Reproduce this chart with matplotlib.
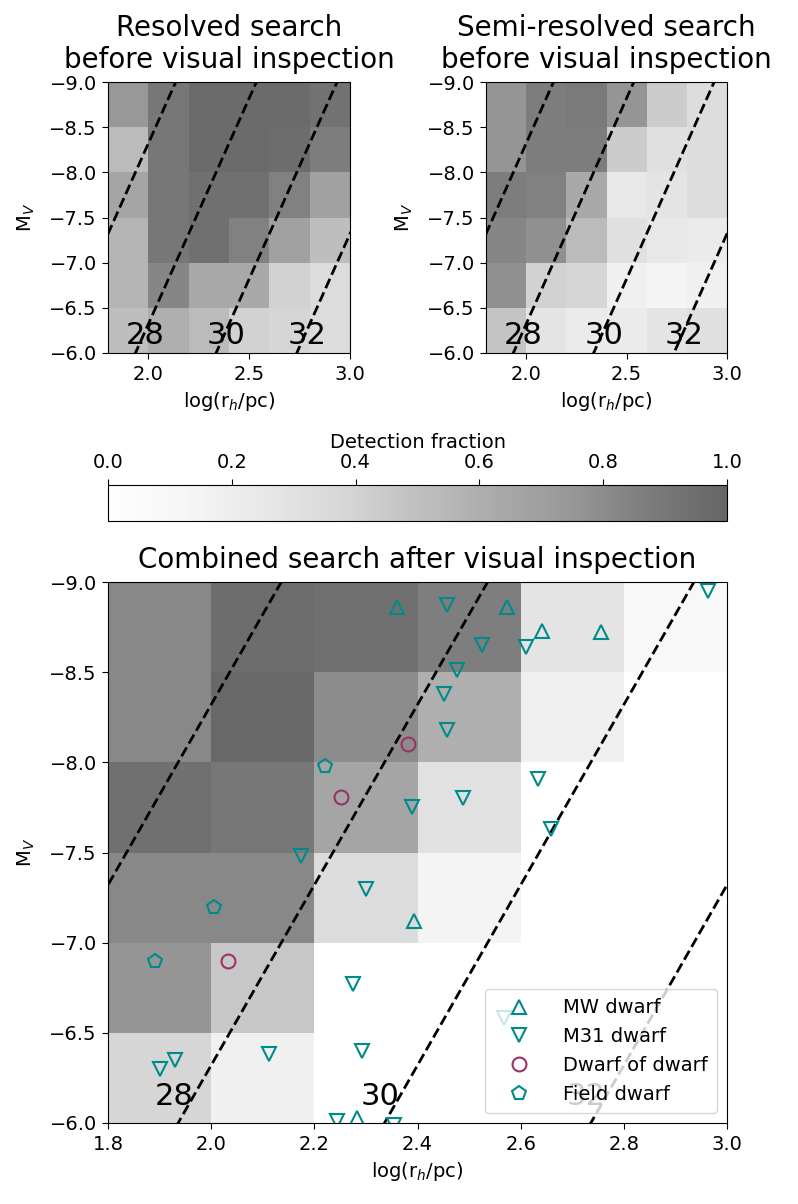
import numpy as np
import matplotlib
matplotlib.use("Agg")
import matplotlib.pyplot as plt

plt.rcParams['font.family'] = ['DejaVu Sans']
plt.rcParams['font.size'] = 14
plt.rcParams['xtick.major.size'] = 4.5
plt.rcParams['ytick.major.size'] = 4.5
plt.rcParams['xtick.major.pad'] = 4.5

# ---------------- data ----------------
logrh_edges = [1.8, 2.0, 2.2, 2.4, 2.6, 2.8, 3.0]
mv_edges = [-9.0, -8.5, -8.0, -7.5, -7.0, -6.5, -6.0]

# detection fraction, rows from M_V=-9 (top) to -6 (bottom)
frac_resolved = [
    [0.74, 0.90, 0.97, 0.97, 0.97, 0.93],
    [0.53, 0.90, 0.97, 0.97, 0.96, 0.87],
    [0.66, 0.90, 0.94, 0.94, 0.85, 0.69],
    [0.57, 0.90, 0.94, 0.85, 0.69, 0.51],
    [0.57, 0.83, 0.63, 0.63, 0.40, 0.34],
    [0.51, 0.60, 0.53, 0.40, 0.38, 0.34],
]
frac_semi = [
    [0.76, 0.87, 0.89, 0.76, 0.43, 0.33],
    [0.76, 0.87, 0.87, 0.43, 0.31, 0.33],
    [0.87, 0.85, 0.63, 0.25, 0.28, 0.34],
    [0.83, 0.78, 0.53, 0.31, 0.25, 0.22],
    [0.78, 0.40, 0.38, 0.18, 0.14, 0.18],
    [0.47, 0.28, 0.22, 0.22, 0.28, 0.31],
]
frac_combined = [
    [0.82, 0.96, 0.94, 0.86, 0.28, 0.09],
    [0.82, 0.98, 0.80, 0.60, 0.18, 0.00],
    [0.94, 0.90, 0.66, 0.30, 0.00, 0.00],
    [0.82, 0.82, 0.34, 0.14, 0.00, 0.00],
    [0.76, 0.46, 0.00, 0.00, 0.00, 0.00],
    [0.38, 0.18, 0.00, 0.00, 0.00, 0.00],
]

mw_logrh = [2.360, 2.573, 2.641, 2.756, 2.393, 2.283]
mw_mv = [-8.86, -8.86, -8.73, -8.72, -7.12, -6.03]

m31_logrh = [2.457, 2.964, 2.526, 2.610, 2.476, 2.451, 2.458, 2.634, 2.488,
             2.389, 2.658, 2.175, 2.301, 2.274, 2.113, 2.292, 1.930, 1.900,
             2.243, 2.355, 2.568]
m31_mv = [-8.87, -8.95, -8.65, -8.64, -8.51, -8.38, -8.18, -7.91, -7.80,
          -7.75, -7.63, -7.48, -7.30, -6.77, -6.38, -6.40, -6.35, -6.30,
          -6.01, -5.99, -6.58]

dod_logrh = [2.382, 2.252, 2.033]
dod_mv = [-8.10, -7.81, -6.90]

field_logrh = [2.221, 2.006, 1.891]
field_mv = [-7.98, -7.20, -6.90]

sb_levels = [26, 28, 30, 32]
sb_labels = ['28', '30', '32']
SB_OFFSET = 21.572 + 2.5 * np.log10(4 * np.pi)

# ---------------- figure ----------------
fig = plt.figure(figsize=(7.98, 12.04), dpi=100)
W, H = 798.0, 1204.0

def ax_rect(x0, y0, x1, y1):
    return [x0 / W, 1 - y1 / H, (x1 - x0) / W, (y1 - y0) / H]

ax_tl = fig.add_axes(ax_rect(108, 82, 350, 353))
ax_tr = fig.add_axes(ax_rect(486, 82, 727, 353))
cax = fig.add_axes(ax_rect(108, 485, 727, 521))
ax_b = fig.add_axes(ax_rect(108, 582, 727, 1123))

cmap = plt.get_cmap('Greys')
mv_line = np.array([-9.5, -5.5])


def draw_panel(ax, frac, title):
    mesh = ax.pcolormesh(logrh_edges, mv_edges, np.array(frac), cmap=cmap,
                         vmin=0, vmax=1, alpha=0.6, edgecolors='none',
                         antialiased=False, shading='flat')
    for mu in sb_levels:
        x = (mu - SB_OFFSET - mv_line) / 5.0
        ax.plot(x, mv_line, 'k--', lw=2)
    for lab in sb_labels:
        mu = float(lab)
        xt = (mu - SB_OFFSET + 5.77) / 5.0
        ax.text(xt, -6.1, lab, fontsize=22, ha='left', va='baseline')
    ax.set_xlim(1.8, 3.0)
    ax.set_ylim(-6.0, -9.0)
    ax.set_xlabel('log(r$_h$/pc)')
    ax.set_ylabel('M$_V$', labelpad=9)
    ax.set_title(title, fontsize=20, pad=10)
    return mesh


mesh = draw_panel(ax_tl, frac_resolved, 'Resolved search\nbefore visual inspection')
draw_panel(ax_tr, frac_semi, 'Semi-resolved search\nbefore visual inspection')
ax_tl.set_xticks([2.0, 2.5, 3.0])
ax_tr.set_xticks([2.0, 2.5, 3.0])
draw_panel(ax_b, frac_combined, 'Combined search after visual inspection')
ax_b.set_xticks(np.arange(1.8, 3.01, 0.2))

teal = '#008b8b'
purple = '#993366'
ms = 10
ax_b.plot(mw_logrh, mw_mv, ls='none', marker='^', ms=ms, mfc='none',
          mec=teal, mew=1.5, label='MW dwarf')
ax_b.plot(m31_logrh, m31_mv, ls='none', marker='v', ms=ms, mfc='none',
          mec=teal, mew=1.5, label='M31 dwarf')
ax_b.plot(dod_logrh, dod_mv, ls='none', marker='o', ms=ms, mfc='none',
          mec=purple, mew=1.5, label='Dwarf of dwarf')
ax_b.plot(field_logrh, field_mv, ls='none', marker='p', ms=ms, mfc='none',
          mec=teal, mew=1.5, label='Field dwarf')
ax_b.legend(loc='lower right', fontsize=14, borderpad=0.5, handlelength=2.5,
            handletextpad=1.0, labelspacing=0.5)

cb = fig.colorbar(mesh, cax=cax, orientation='horizontal')
cax.xaxis.set_ticks_position('top')
cax.xaxis.set_label_position('top')
cb.set_label('Detection fraction')
cb.set_ticks([0.0, 0.2, 0.4, 0.6, 0.8, 1.0])

fig.savefig('out.png', dpi=100)
